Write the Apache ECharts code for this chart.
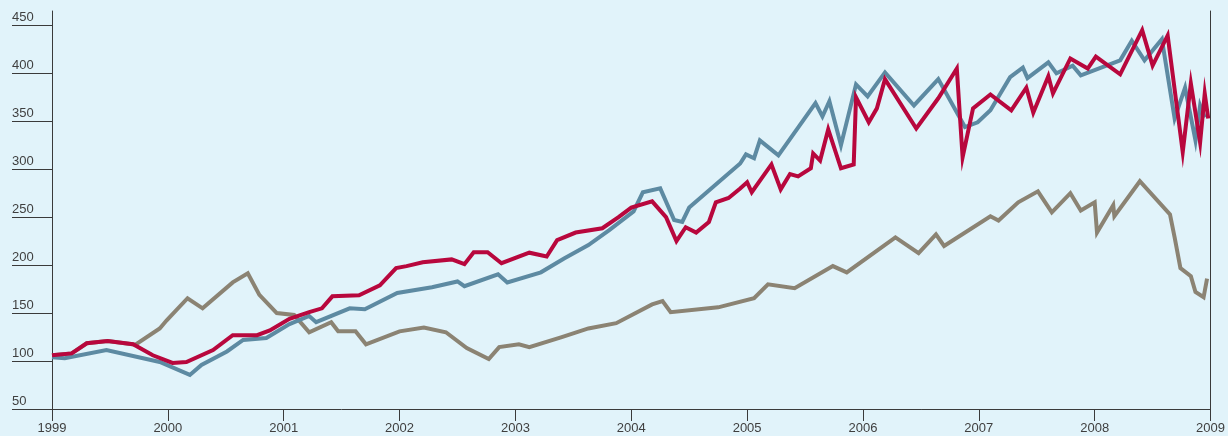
<!DOCTYPE html>
<html>
<head>
<meta charset="utf-8">
<script src="https://cdn.jsdelivr.net/npm/echarts@6/dist/echarts.min.js"></script>
<style>
  html, body { margin: 0; padding: 0; background: #e1f3fa; }
  #chart { width: 1228px; height: 436px; }
</style>
</head>
<body>
<div id="chart"></div>
<script>
// [year, index value]
const redLine = [
  [1999.00, 106], [1999.17, 108], [1999.30, 118.5], [1999.48, 121], [1999.70, 117.5],
  [1999.87, 106], [2000.04, 98], [2000.16, 99], [2000.39, 111.5], [2000.56, 127],
  [2000.77, 127], [2000.88, 132], [2001.05, 144], [2001.22, 151], [2001.33, 155],
  [2001.42, 167.5], [2001.65, 168.5], [2001.83, 179], [2001.97, 197], [2002.06, 199],
  [2002.20, 203], [2002.45, 206], [2002.56, 201], [2002.64, 213.5], [2002.76, 213.5],
  [2002.88, 202], [2003.12, 213], [2003.27, 209], [2003.36, 226], [2003.52, 234],
  [2003.75, 238.5], [2003.89, 250], [2004.00, 260], [2004.18, 266.5], [2004.30, 250],
  [2004.39, 225], [2004.47, 239.5], [2004.56, 234], [2004.67, 245], [2004.73, 265.5],
  [2004.84, 270], [2004.94, 280], [2005.00, 286.5], [2005.04, 276], [2005.21, 305],
  [2005.29, 279], [2005.37, 295], [2005.44, 292.5], [2005.55, 301], [2005.57, 316.5],
  [2005.63, 309], [2005.70, 341.5], [2005.81, 301], [2005.92, 305], [2005.94, 375],
  [2006.05, 349], [2006.12, 363.5], [2006.19, 394], [2006.46, 342.5], [2006.65, 374],
  [2006.81, 405], [2006.86, 312.5], [2006.95, 363.5], [2007.10, 378], [2007.28, 361.5],
  [2007.41, 385], [2007.47, 359], [2007.60, 397], [2007.64, 379], [2007.79, 415.5],
  [2007.94, 405], [2008.01, 417.5], [2008.22, 399], [2008.41, 445], [2008.50, 408],
  [2008.63, 439.5], [2008.76, 318], [2008.83, 389.5], [2008.91, 328], [2008.95, 379],
  [2008.98, 353]
]

const blueLine = [
  [1999.00, 104], [1999.11, 103], [1999.47, 111.5], [1999.93, 99], [2000.19, 85.5],
  [2000.29, 96], [2000.51, 110], [2000.65, 122], [2000.85, 124], [2001.05, 138.5],
  [2001.22, 147], [2001.28, 140.5], [2001.57, 155], [2001.70, 154], [2001.98, 171],
  [2002.28, 177], [2002.50, 183], [2002.56, 178], [2002.85, 190.5], [2002.93, 182],
  [2003.22, 192.5], [2003.42, 207], [2003.63, 221], [2003.81, 236.5], [2004.02, 256],
  [2004.10, 276], [2004.25, 280], [2004.37, 247], [2004.44, 245], [2004.50, 260],
  [2004.94, 306], [2004.99, 315.5], [2005.06, 311.5], [2005.11, 330], [2005.27, 314.5],
  [2005.59, 369], [2005.65, 355], [2005.71, 371], [2005.81, 325], [2005.94, 388.5],
  [2006.04, 376], [2006.19, 401], [2006.44, 366.5], [2006.65, 394], [2006.88, 344],
  [2006.99, 349], [2007.10, 361.5], [2007.27, 396], [2007.38, 406], [2007.42, 395],
  [2007.60, 411.5], [2007.67, 400], [2007.81, 408], [2007.88, 398], [2008.22, 413.5],
  [2008.32, 434], [2008.43, 413.5], [2008.58, 435.5], [2008.69, 353], [2008.78, 385],
  [2008.87, 330], [2008.91, 366.5], [2008.95, 354]
]

const grayLine = [
  [1999.00, 106], [1999.17, 108], [1999.30, 118.5], [1999.48, 121], [1999.72, 117],
  [1999.93, 134], [1999.99, 142.5], [2000.17, 165.5], [2000.30, 155], [2000.56, 182],
  [2000.69, 191.5], [2000.79, 169], [2000.94, 150], [2001.09, 148], [2001.22, 130],
  [2001.41, 140.5], [2001.47, 131], [2001.62, 131], [2001.71, 117.5], [2002.00, 131],
  [2002.21, 135], [2002.40, 130], [2002.58, 113.5], [2002.77, 102], [2002.86, 114.5],
  [2003.03, 117.5], [2003.12, 114.5], [2003.40, 125], [2003.63, 134], [2003.87, 139.5],
  [2004.18, 159], [2004.27, 162.5], [2004.34, 151], [2004.75, 156], [2005.06, 165.5],
  [2005.18, 180], [2005.41, 176], [2005.74, 199], [2005.86, 192.5], [2006.28, 229],
  [2006.48, 212.5], [2006.63, 232], [2006.70, 220], [2007.10, 251], [2007.17, 246.5],
  [2007.34, 265.5], [2007.51, 277], [2007.63, 255], [2007.79, 275], [2007.88, 257],
  [2008.00, 265.5], [2008.02, 234], [2008.16, 262.5], [2008.17, 251], [2008.39, 287.5],
  [2008.65, 253], [2008.69, 229], [2008.74, 197], [2008.83, 188.5], [2008.87, 172],
  [2008.94, 166.5], [2008.97, 186]
]

const yTicks = [50, 100, 150, 200, 250, 300, 350, 400, 450]

const axisColor = '#3a3a3a'
const textColor = '#3f3f3f'
const fontFamily = '"Liberation Sans", Arial, sans-serif'

const chart = echarts.init(document.getElementById('chart'))

function lineSeries(name, data, color) {
  return {
    name,
    type: 'line',
    data,
    showSymbol: false,
    symbol: 'none',
    lineStyle: { color, width: 4, join: 'miter' },
    z: 3
  }
}

chart.setOption({
  animation: false,
  backgroundColor: '#e1f3fa',
  grid: { left: 52, right: 15, top: 11, bottom: 27 },
  xAxis: {
    type: 'value',
    min: 1999,
    max: 2009,
    interval: 1,
    axisLine: { show: true, lineStyle: { color: axisColor, width: 1 } },
    axisTick: { show: true, length: 12, lineStyle: { color: axisColor } },
    axisLabel: {
      color: textColor,
      fontSize: 13,
      fontFamily,
      margin: 13,
      formatter: v => String(v)
    },
    splitLine: { show: false }
  },
  yAxis: [{
    type: 'value',
    min: 50,
    max: 465,
    axisLine: { show: true, onZero: false, lineStyle: { color: axisColor, width: 1 } },
    axisTick: { show: true, length: 40, customValues: yTicks, lineStyle: { color: axisColor } },
    axisLabel: {
      customValues: yTicks,
      color: textColor,
      fontSize: 13,
      fontFamily,
      align: 'left',
      verticalAlign: 'bottom',
      margin: 40,
      padding: [0, 0, 1, 0]
    },
    splitLine: { show: false }
  }, {
    type: 'value',
    position: 'right',
    min: 50,
    max: 465,
    axisLine: { show: true, onZero: false, lineStyle: { color: axisColor, width: 1 } },
    axisTick: { show: false },
    axisLabel: { show: false },
    splitLine: { show: false }
  }],
  series: [
    lineSeries('Gray', grayLine, '#8b8373'),
    lineSeries('Blue', blueLine, '#5d8aa2'),
    lineSeries('Red', redLine, '#b8073d')
  ]
})
</script>
</body>
</html>
